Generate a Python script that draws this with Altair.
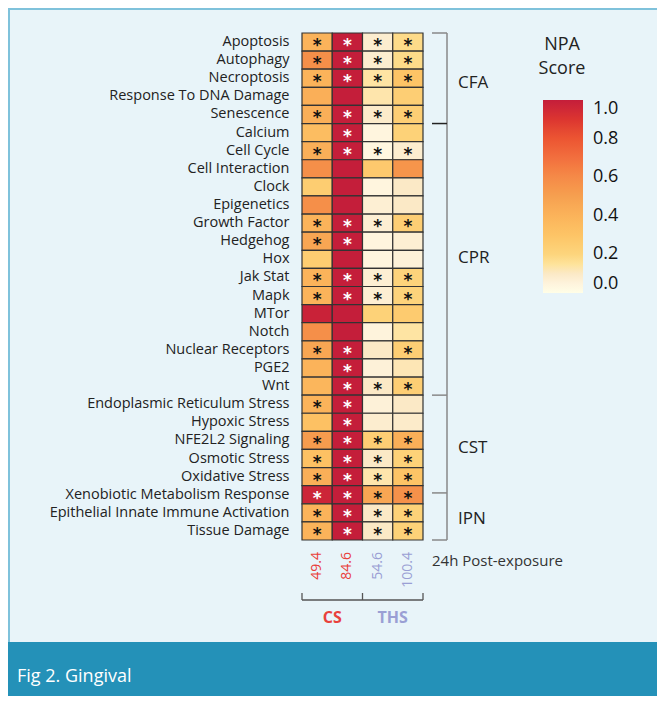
import altair as alt
import pandas as pd

rows = ["Apoptosis", "Autophagy", "Necroptosis", "Response To DNA Damage", "Senescence",
        "Calcium", "Cell Cycle", "Cell Interaction ", "Clock", "Epigenetics", "Growth Factor",
        "Hedgehog", "Hox", "Jak Stat", "Mapk", "MTor", "Notch", "Nuclear Receptors", "PGE2", "Wnt",
        "Endoplasmic Reticulum Stress", "Hypoxic Stress", "NFE2L2 Signaling", "Osmotic Stress",
        "Oxidative Stress", "Xenobiotic Metabolism Response",
        "Epithelial Innate Immune Activation", "Tissue Damage"]
cols = ["49.4", "84.6", "54.6", "100.4"]
col_group = ["CS", "CS", "THS", "THS"]

v_cs_494 = [0.40, 0.58, 0.40, 0.42, 0.42, 0.34, 0.42, 0.58, 0.25, 0.58, 0.40, 0.47, 0.25, 0.40,
            0.40, 0.98, 0.58, 0.47, 0.40, 0.38, 0.40, 0.32, 0.52, 0.32, 0.42, 0.97, 0.40, 0.40]
v_cs_846 = [1.0] * 28
v_ths_546 = [0.08, 0.08, 0.14, 0.13, 0.09, 0.04, 0.03, 0.27, 0.04, 0.07, 0.07, 0.04, 0.04, 0.07,
             0.07, 0.22, 0.05, 0.10, 0.06, 0.10, 0.06, 0.08, 0.24, 0.10, 0.13, 0.47, 0.10, 0.10]
v_ths_1004 = [0.18, 0.18, 0.30, 0.24, 0.24, 0.22, 0.08, 0.55, 0.10, 0.10, 0.24, 0.07, 0.06, 0.21,
              0.21, 0.26, 0.14, 0.24, 0.12, 0.24, 0.10, 0.09, 0.42, 0.22, 0.30, 0.57, 0.22, 0.22]

s_cs_494 = [1,1,1,0,1,0,1,0,0,0,1,1,0,1,1,0,0,1,0,0,1,0,1,1,1,1,1,1]
s_cs_846 = [1,1,1,0,1,1,1,0,0,0,1,1,0,1,1,0,0,1,1,1,1,1,1,1,1,1,1,1]
s_ths_546 = [1,1,1,0,1,0,1,0,0,0,1,0,0,1,1,0,0,0,0,1,0,0,1,1,1,1,1,1]
s_ths_1004 = [1,1,1,0,1,0,1,0,0,0,1,0,0,1,1,0,0,1,0,1,0,0,1,1,1,1,1,1]

group_names = ["CFA", "CPR", "CST", "IPN"]
group_label_pos = [2.75, 12.4, 22.9, 26.85]
bracket_ticks = [0, 5, 20, 25.4, 28]
bracket_tick_color = ["#888888", "#222222", "#888888", "#888888", "#888888"]

# ---- layout constants
W, H = 121, 507
PADL, PADT, PADR, PADB = 294, 25, 234, 156
colw = W / 4

vals = [v_cs_494, v_cs_846, v_ths_546, v_ths_1004]
stars = [s_cs_494, s_cs_846, s_ths_546, s_ths_1004]
recs = []
for ci, c in enumerate(cols):
    for ri, r in enumerate(rows):
        recs.append({"row": r, "col": c, "v": vals[ci][ri], "star": stars[ci][ri]})
df = pd.DataFrame(recs)

cdomain = [0, 0.05, 0.1, 0.15, 0.2, 0.3, 0.4, 0.5, 0.6, 0.7, 0.8, 0.9, 1.0]
crange = ["#ffffff", "#fef3dc", "#fbe9c6", "#fee39a", "#fdd57d", "#fdc466", "#fbb35a",
          "#f6a050", "#f58a48", "#f26f3e", "#ec5532", "#dc3530", "#c41e3a"]

base = alt.Chart(df)
xscale = alt.Scale(domain=cols, paddingInner=0, paddingOuter=0)
xenc = alt.X("col:N", axis=None, scale=xscale)
yscale = alt.Scale(domain=rows, paddingInner=0, paddingOuter=0)
yenc = alt.Y("row:N", title=None, scale=yscale,
             axis=alt.Axis(labelFont="Open Sans", labelFontSize=14.5, labelColor="#222222",
                           ticks=False, domain=False, labelPadding=13, labelLimit=300))

heat = base.mark_rect(stroke="#333333", strokeWidth=1.2).encode(
    x=xenc, y=yenc,
    color=alt.Color("v:Q", scale=alt.Scale(domain=cdomain, range=crange),
                    legend=alt.Legend(orient="none", legendX=241, legendY=67, title=None,
                                      direction="vertical", gradientLength=193,
                                      gradientThickness=40, gradientStrokeWidth=0,
                                      values=[0, 0.2, 0.4, 0.6, 0.8, 1.0], format=".1f",
                                      labelFont="Open Sans", labelFontSize=18,
                                      labelColor="#111111", labelOffset=10,
                                      labelOverlap=False, padding=0)),
)

star_layer = base.transform_filter("datum.star == 1").mark_text(
    text="*", font="DejaVu Sans", fontSize=17, fontWeight="bold", baseline="middle", dy=4
).encode(
    x=xenc, y=alt.Y("row:N", scale=yscale, axis=None),
    color=alt.condition("datum.v > 0.85", alt.value("white"), alt.value("#111111")),
)

# numbers under columns
num_df = pd.DataFrame({"col": cols, "grp": col_group})
nums = alt.Chart(num_df).mark_text(angle=270, align="right", baseline="middle",
                                   font="Open Sans", fontSize=14).encode(
    x=xenc, y=alt.value(H + 12), text="col:N",
    color=alt.Color("grp:N", scale=alt.Scale(domain=["CS", "THS"], range=["#e8413c", "#9a9fd4"]),
                    legend=None),
)

post = alt.Chart(pd.DataFrame({"t": ["24h Post-exposure"]})).mark_text(
    align="left", baseline="middle", font="Open Sans", fontSize=15, color="#333333"
).encode(x=alt.value(W + 9), y=alt.value(H + 21), text="t:N")

# bottom bracket
bb_df = pd.DataFrame({"t": ["a"]})
bb_h = alt.Chart(bb_df).mark_rule(color="#555555", strokeWidth=1.3).encode(
    x=alt.value(0), x2=alt.value(W), y=alt.value(H + 60))
xq = alt.Scale(domain=[0, W], nice=False, zero=False)
bb_ticks = alt.Chart(pd.DataFrame({"xp": [0, W / 2, W]})).mark_rule(
    color="#555555", strokeWidth=1.3).encode(
    x=alt.X("xp:Q", scale=xq, axis=None),
    y=alt.value(H + 53), y2=alt.value(H + 60))
grp_df = pd.DataFrame({"g": ["CS", "THS"], "xp": [colw, 3 * colw]})
grp_lab = alt.Chart(grp_df).mark_text(font="Open Sans", fontSize=16, fontWeight="bold",
                                      baseline="middle").encode(
    x=alt.X("xp:Q", scale=xq, axis=None),
    y=alt.value(H + 78), text="g:N",
    color=alt.Color("g:N", scale=alt.Scale(domain=["CS", "THS"], range=["#e8413c", "#9a9fd4"]),
                    legend=None))

# right bracket
yq = alt.Scale(domain=[0, 28], nice=False, zero=False, reverse=True)
br_v = alt.Chart(pd.DataFrame({"y0": [0], "y1": [28]})).mark_rule(
    color="#888888", strokeWidth=1.5).encode(
    x=alt.value(W + 24), y=alt.Y("y0:Q", scale=yq, axis=None), y2="y1:Q")
br_t = alt.Chart(pd.DataFrame({"yp": bracket_ticks, "c": bracket_tick_color})).mark_rule(
    strokeWidth=1.5).encode(
    x=alt.value(W + 9), x2=alt.value(W + 24), y=alt.Y("yp:Q", scale=yq, axis=None),
    color=alt.Color("c:N", scale=None, legend=None))
br_l = alt.Chart(pd.DataFrame({"g": group_names, "yp": group_label_pos})).mark_text(
    align="left", baseline="middle", font="Open Sans", fontSize=17, color="#222222").encode(
    x=alt.value(W + 35), y=alt.Y("yp:Q", scale=yq, axis=None), text="g:N")

# legend title
lt = alt.Chart(pd.DataFrame({"t": ["NPA", "Score"], "yy": [12, 36]})).mark_text(
    align="center", baseline="middle", font="Open Sans", fontSize=18, color="#222222").encode(
    x=alt.value(260), y=alt.Y("yy:Q", scale=alt.Scale(domain=[0, H], range=[0, H], nice=False,
                                                        zero=False), axis=None), text="t:N")

# footer / border
foot = alt.Chart(pd.DataFrame({"t": ["a"]})).mark_rect(color="#2491b8").encode(
    x=alt.value(-PADL + 0), x2=alt.value(W + PADR), y=alt.value(H + 102), y2=alt.value(H + PADB))
foot_t = alt.Chart(pd.DataFrame({"t": ["Fig 2. Gingival"]})).mark_text(
    align="left", baseline="middle", font="Open Sans", fontSize=18, color="white").encode(
    x=alt.value(-PADL + 9), y=alt.value(H + 137), text="t:N")
top_line = alt.Chart(pd.DataFrame({"t": ["a"]})).mark_rule(color="#7fc2db", strokeWidth=2).encode(
    x=alt.value(-PADL), x2=alt.value(W + PADR), y=alt.value(-PADT + 1))
left_line = alt.Chart(pd.DataFrame({"t": ["a"]})).mark_rule(color="#7fc2db", strokeWidth=2).encode(
    x=alt.value(-PADL + 1), y=alt.value(-PADT), y2=alt.value(H + 102))

chart = alt.layer(
    foot, top_line, left_line, heat, star_layer, nums, post, bb_h, bb_ticks, grp_lab,
    br_v, br_t, br_l, lt, foot_t
).resolve_scale(y="independent", x="independent", color="independent").properties(
    width=W, height=H,
    padding={"left": PADL, "top": PADT, "right": PADR, "bottom": PADB},
    autosize=alt.AutoSizeParams(type="none"),
    background="#e8f4f9",
).configure_view(stroke=None)

chart.save("out.html", embed_options={"renderer": "svg", "actions": False})
